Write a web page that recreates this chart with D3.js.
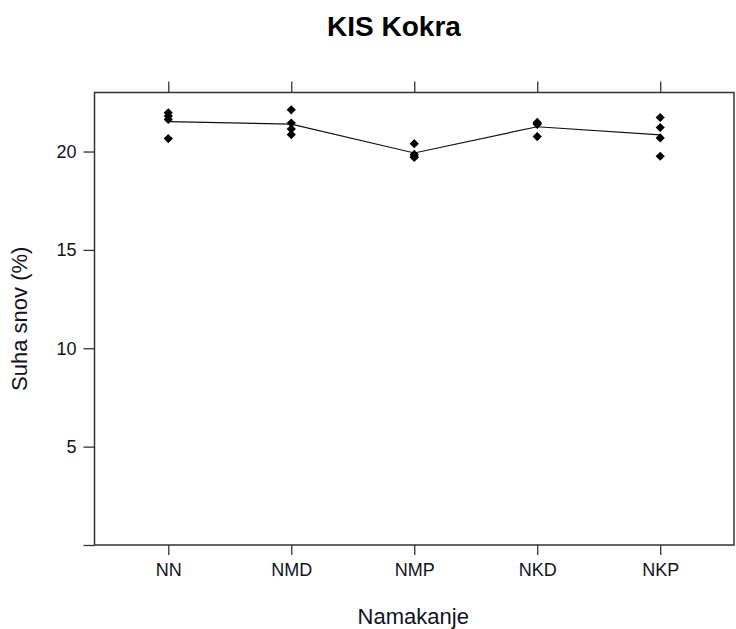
<!DOCTYPE html>
<html>
<head>
<meta charset="utf-8">
<script src="https://cdn.jsdelivr.net/npm/d3@7/dist/d3.min.js"></script>
<style>
  html, body { margin: 0; padding: 0; background: #fff; }
  svg { display: block; font-family: "Liberation Sans", Arial, sans-serif; }
</style>
</head>
<body>
<svg id="chart" width="736" height="629"></svg>
<script>
// Dry matter (%) per soaking treatment, four replicates each
const categories = ["NN", "NMD", "NMP", "NKD", "NKP"];
const rep1 = [21.97, 22.12, 20.40, 21.48, 21.73];
const rep2 = [21.80, 21.45, 19.85, 21.42, 21.22];
const rep3 = [21.63, 21.15, 19.75, 21.38, 20.69];
const rep4 = [20.66, 20.86, 19.70, 20.76, 19.76];
const yTicks = [0, 5, 10, 15, 20];
const yTickLabels = ["", "5", "10", "15", "20"];

const title = "KIS Kokra";
const xTitle = "Namakanje";
const yTitle = "Suha snov (%)";

const box = { left: 94.5, right: 734, top: 92.5, bottom: 545 };
const svg = d3.select("#chart");

const x = d3.scalePoint().domain(categories).range([box.left, box.right]).padding(0.6);
const y = d3.scaleLinear().domain([0, 23]).range([box.bottom, box.top]);

const points = [];
[rep1, rep2, rep3, rep4].forEach(rep => {
  rep.forEach((v, i) => points.push({ cat: categories[i], v }));
});
const means = categories.map((c, i) => ({
  cat: c,
  v: d3.mean([rep1[i], rep2[i], rep3[i], rep4[i]])
}));

const axisColor = "#333";

// Axes: ticks outside the panel, on left/bottom/top
const yAxis = d3.axisLeft(y).tickValues(yTicks).tickSize(11).tickPadding(7)
  .tickFormat((d, i) => yTickLabels[i]);
const xAxis = d3.axisBottom(x).tickSize(10).tickPadding(8);
const xAxisTop = d3.axisTop(x).tickSize(11).tickFormat("");

const gy = svg.append("g").attr("transform", `translate(${box.left},0)`).call(yAxis);
const gx = svg.append("g").attr("transform", `translate(0,${box.bottom})`).call(xAxis);
const gt = svg.append("g").attr("transform", `translate(0,${box.top})`).call(xAxisTop);
[gy, gx, gt].forEach(g => {
  g.select(".domain").remove();
  g.selectAll(".tick line").attr("stroke", axisColor).attr("stroke-width", 1.3);
  g.selectAll(".tick text").attr("fill", "#111122").style("font-size", "18px");
});

// Panel border
svg.append("rect")
  .attr("x", box.left).attr("y", box.top)
  .attr("width", box.right - box.left).attr("height", box.bottom - box.top)
  .attr("fill", "none").attr("stroke", axisColor).attr("stroke-width", 1.5);

// Mean line
svg.append("path")
  .datum(means)
  .attr("fill", "none").attr("stroke", "#111").attr("stroke-width", 1.2)
  .attr("d", d3.line().x(d => x(d.cat)).y(d => y(d.v)));

// Replicate points (filled diamonds)
const r = 4.6;
svg.append("g").selectAll("path")
  .data(points)
  .join("path")
  .attr("transform", d => `translate(${x(d.cat)},${y(d.v)})`)
  .attr("d", `M0,${-r}L${r},0L0,${r}L${-r},0Z`)
  .attr("fill", "#000");

// Titles
svg.append("text")
  .attr("x", 394).attr("y", 36)
  .attr("text-anchor", "middle")
  .style("font-size", "28px").style("font-weight", "bold")
  .attr("fill", "#000")
  .text(title);

svg.append("text")
  .attr("x", (box.left + box.right) / 2 - 1).attr("y", 624)
  .attr("text-anchor", "middle")
  .style("font-size", "22px")
  .attr("fill", "#111122")
  .text(xTitle);

svg.append("text")
  .attr("transform", `translate(27,${(box.top + box.bottom) / 2}) rotate(-90)`)
  .attr("text-anchor", "middle")
  .style("font-size", "22px")
  .attr("fill", "#111122")
  .text(yTitle);
</script>
</body>
</html>
